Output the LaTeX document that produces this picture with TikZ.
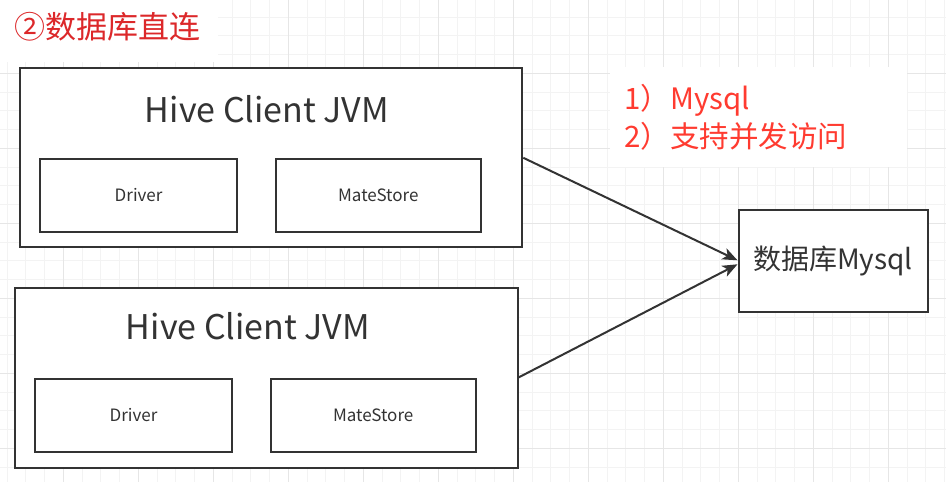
\documentclass[tikz,border=0pt]{standalone}
\usepackage{fontspec}
\setmainfont{Noto Sans CJK SC}
\usetikzlibrary{arrows.meta}
\definecolor{ink}{RGB}{51,51,51}
\definecolor{gridminor}{RGB}{243,243,243}
\definecolor{gridmajor}{RGB}{230,230,230}
\definecolor{titlered}{RGB}{220,40,42}
\definecolor{notered}{RGB}{255,59,48}

\begin{document}
\begin{tikzpicture}[x=1pt,y=-1pt,
		box/.style={draw=ink,line width=2pt,rectangle,inner sep=0pt},
		jvm/.style={box,minimum width=502pt,minimum height=179pt},
		part/.style={box,minimum height=73pt,text=ink,font=\fontsize{17}{20}\selectfont},
		jvmlabel/.style={anchor=base,text=ink,inner sep=0pt,font=\fontsize{34}{40}\selectfont},
		link/.style={-{Stealth[length=15pt,width=12pt,inset=4pt]},line width=2pt,draw=ink}]
	\useasboundingbox (0,0) rectangle (946,482);
	\fill[white] (0,0) rectangle (946,482);
	% grid
	\foreach \i in {0,...,50} \draw[gridminor,line width=1pt] (7.05+18.75*\i,0) -- (7.05+18.75*\i,482);
	\foreach \i in {0,...,24} \draw[gridminor,line width=1pt] (0,17.05+18.75*\i) -- (946,17.05+18.75*\i);
	\foreach \i in {0,...,11} \draw[gridmajor,line width=1pt] (63.3+75*\i,0) -- (63.3+75*\i,482);
	\foreach \i in {0,...,5} \draw[gridmajor,line width=1pt] (0,73.3+75*\i) -- (946,73.3+75*\i);
	\fill[white] (0,0) rectangle (218,62);
	\fill[white] (610,67) rectangle (907,167);

	\node[anchor=west,inner sep=0pt,text=titlered,font=\fontsize{31}{36}\selectfont] (title) at (14,27) {②数据库直连};

	\node[jvm,fill=white] (hc1) at (271.3,157.8) {};
	\node[jvmlabel] (hc1lbl) at (267,122) {Hive Client JVM};
	\node[part,minimum width=197pt] (drv1) at (138.6,195.2) {Driver};
	\node[part,minimum width=205pt] (ms1) at (378.3,195.2) {MateStore};

	\node[jvm,fill=white,minimum width=503pt,minimum height=180pt] (hc2) at (266,377.5) {};
	\node[jvmlabel] (hc2lbl) at (248,339.3) {Hive Client JVM};
	\node[part,minimum width=197pt] (drv2) at (133.5,415) {Driver};
	\node[part,minimum width=205pt] (ms2) at (373.2,415) {MateStore};

	\node[box,fill=white,minimum width=189pt,minimum height=102pt,text=ink,font=\fontsize{28}{32}\selectfont] (db) at (833,261.3) {数据库Mysql};

	\node[anchor=west,inner sep=0pt,align=left,text=notered,font=\fontsize{29.5}{37.7}\selectfont] (note) at (624,117) {1）Mysql\\2）支持并发访问};

	\draw[link] (hc1.east) -- ([yshift=1pt]db.west);
	\draw[link] (hc2.east) -- ([yshift=-3pt]db.west);
\end{tikzpicture}
\end{document}
